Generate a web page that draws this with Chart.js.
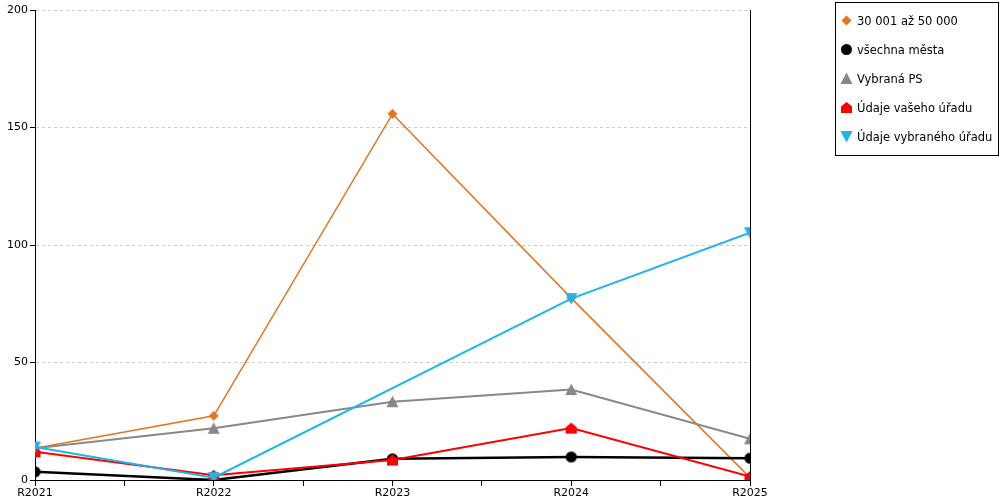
<!DOCTYPE html>
<html>
<head>
<meta charset="utf-8">
<script src="https://cdn.jsdelivr.net/npm/chart.js@4"></script>
<style>
  body { margin: 0; background: #fff; font-family: "DejaVu Sans", sans-serif; }
  #wrap { position: relative; width: 1000px; height: 500px; }
  #legend {
    position: absolute; left: 835px; top: 2px; width: 162px; height: 152px;
    border: 1px solid #000; font-size: 11.5px; color: #000;
  }
  #legend div { position: absolute; left: 4px; height: 14px; line-height: 14px; white-space: nowrap; }
  #legend img { vertical-align: middle; margin-right: 4px; position: relative; top: -1px; }
</style>
</head>
<body>
<div id="wrap">
  <canvas id="myChart" width="1000" height="500"></canvas>
  <div id="legend"></div>
</div>
<script>
// categories and values
const years = ["R2021", "R2022", "R2023", "R2024", "R2025"];
const yTicks = [0, 50, 100, 150, 200];

const seriesNames = ["30 001 až 50 000", "všechna města", "Vybraná PS", "Údaje vašeho úřadu", "Údaje vybraného úřadu"];
const seriesColors = ["#E4751F", "#000000", "#888888", "#FF0000", "#1DB4EC"];
const seriesMarkers = ["diamond", "circle", "triangle", "house", "triangleDown"];

const city30to50 = [13.5, 27.3, 155.8, 77.4, 1];
const allCities = [3.5, 0, 9, 9.8, 9.3];
const chosenPS = [13.5, 22, 33.3, 38.5, 17.5];
const yourOffice = [12, 2, 8.5, 22.1, 1.5];
const chosenOffice = [14, 1, null, 77.2, 105.2];

const seriesData = [city30to50, allCities, chosenPS, yourOffice, chosenOffice];

// Draw a marker into a small canvas
function makeMarker(kind, color) {
  const c = document.createElement("canvas");
  c.width = 13;
  c.height = 13;
  const g = c.getContext("2d");
  g.fillStyle = color;
  g.beginPath();
  switch (kind) {
    case "diamond":
      g.moveTo(6.5, 1.5); g.lineTo(11.5, 6.5); g.lineTo(6.5, 11.5); g.lineTo(1.5, 6.5);
      break;
    case "circle":
      g.arc(6.5, 6.5, 5.5, 0, Math.PI * 2);
      break;
    case "triangle":
      g.moveTo(6.5, 0.5); g.lineTo(12.5, 12); g.lineTo(0.5, 12);
      break;
    case "house":
      g.moveTo(6.5, 1); g.lineTo(12, 5.5); g.lineTo(12, 12); g.lineTo(1, 12); g.lineTo(1, 5.5);
      break;
    case "triangleDown":
      g.moveTo(0.5, 1); g.lineTo(12.5, 1); g.lineTo(6.5, 12.5);
      break;
  }
  g.closePath();
  g.fill();
  return c;
}

const markers = seriesMarkers.map((m, i) => makeMarker(m, seriesColors[i]));

const datasets = seriesData.map((vals, i) => ({
  label: seriesNames[i],
  data: vals.map((v, j) => ({ x: j, y: v })),
  borderColor: seriesColors[i],
  backgroundColor: seriesColors[i],
  borderWidth: i === 0 ? 1.5 : (i === 1 ? 2.5 : 2),
  pointStyle: markers[i],
  pointRadius: 6,
  spanGaps: true,
  tension: 0,
  // first series at the bottom, last on top
  order: seriesData.length - 1 - i,
}));

const tickFont = { family: "DejaVu Sans", size: 11 };

const ctx = document.getElementById("myChart").getContext("2d");
const chart = new Chart(ctx, {
  type: "line",
  data: { datasets: datasets },
  options: {
    responsive: false,
    animation: false,
    layout: { padding: { top: 10, right: 250, left: 0, bottom: 0 } },
    plugins: { legend: { display: false }, tooltip: { enabled: false } },
    scales: {
      x: {
        type: "linear",
        min: 0,
        max: years.length - 1,
        // tick mark at every category and half way between
        afterBuildTicks: (s) => {
          const t = [];
          for (let v = 0; v <= years.length - 1; v += 0.5) t.push({ value: v });
          s.ticks = t;
        },
        ticks: {
          autoSkip: false,
          maxRotation: 0,
          padding: 1,
          color: "#000",
          font: tickFont,
          callback: (v) => (Number.isInteger(v) ? years[v] : ""),
        },
        grid: { drawOnChartArea: false, tickLength: 6, tickColor: "#000", color: "#000" },
        border: { color: "#000", width: 1 },
        afterFit: (s) => { s.height = 20; },
      },
      y: {
        min: 0,
        max: 200,
        afterBuildTicks: (s) => { s.ticks = yTicks.map((v) => ({ value: v })); },
        ticks: { color: "#000", font: tickFont, padding: 2 },
        grid: { color: "#cccccc", tickColor: "#000", tickLength: 5 },
        border: { color: "#000", width: 1, dash: [3, 3] },
        afterFit: (s) => { s.width = 35; },
      },
      y2: {
        position: "right",
        min: 0,
        max: 200,
        ticks: { display: false },
        grid: { display: false },
        border: { color: "#000", width: 1 },
        afterFit: (s) => { s.width = 0; },
      },
    },
  },
});

// legend box
const legend = document.getElementById("legend");
seriesNames.forEach((name, i) => {
  const row = document.createElement("div");
  row.style.top = (11 + i * 29) + "px";
  const img = document.createElement("img");
  img.src = markers[i].toDataURL();
  img.width = 13;
  img.height = 13;
  row.appendChild(img);
  row.appendChild(document.createTextNode(name));
  legend.appendChild(row);
});
</script>
</body>
</html>
